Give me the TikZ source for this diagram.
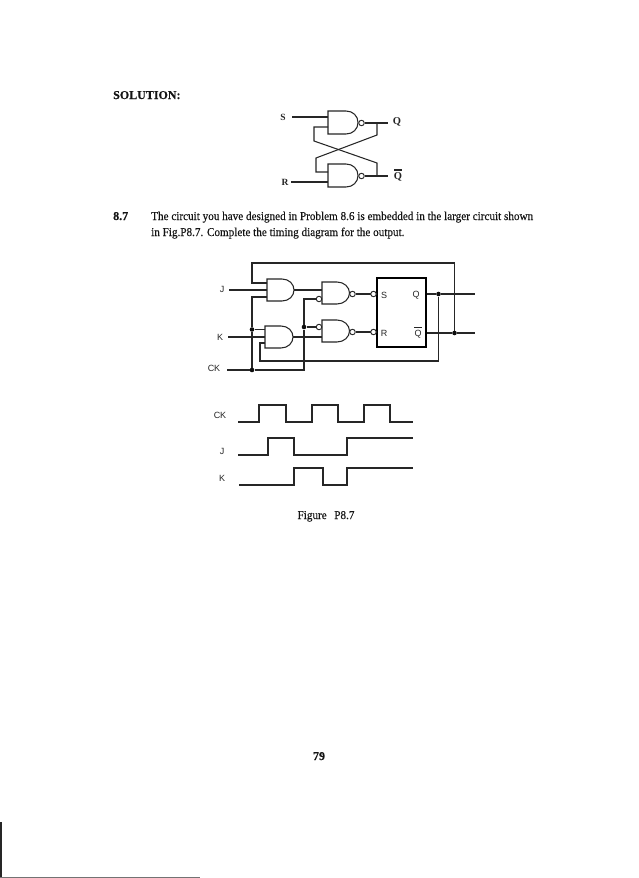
\documentclass[tikz,border=0pt]{standalone}
\usepackage{fontspec}
\setmainfont{Liberation Serif}
\setsansfont{Liberation Sans}
\newfontfamily\bodyfont[FakeStretch=0.93,FakeBold=0.25]{Liberation Serif}
\newfontfamily\headfont[FakeStretch=1.0,FakeBold=0.2]{Liberation Serif Bold}
\tikzset{
  wire/.style={line width=1.05pt,draw=black!85},
  bub/.style={circle,draw=black!85,line width=0.9pt,fill=white,inner sep=0pt,minimum size=5.5pt},
  dotj/.style={circle,fill=black!95,inner sep=0pt,minimum size=4.6pt},
  body/.style={font=\fontsize{12}{13}\bodyfont,anchor=base west,inner sep=0pt,text=black!92},
  bodyb/.style={font=\fontsize{12}{13}\headfont,anchor=base west,inner sep=0pt,text=black!92},
  serlab/.style={font=\fontsize{9.5}{11}\selectfont\bfseries,inner sep=0pt,text=black!85},
  serlabq/.style={font=\fontsize{10.5}{12}\selectfont\bfseries,inner sep=0pt,text=black!85},
  sanlab/.style={font=\fontsize{9}{10}\sffamily\selectfont,inner sep=0pt,text=black!85},
}
\begin{document}
\begin{tikzpicture}[x=1pt,y=-1pt]
\useasboundingbox (0,0) rectangle (638,878);
\fill[white] (0,0) rectangle (638,878);
% scan edge
\fill[black!85] (0,822) rectangle (1.6,878);
\fill[black!55] (0,877) rectangle (200,878);
% text
\node[bodyb] (t1) at (113,99) {SOLUTION:};
\node[bodyb] (t2) at (113,220) {8.7};
\node[body] (t3) at (151,220) {The circuit you have designed in Problem 8.6 is embedded in the larger circuit shown};
\node[body] (t4) at (151,236) {in Fig.P8.7. Complete the timing diagram for the output.};
\node[body,anchor=base] (t5) at (326,519) {Figure\ \ \,P8.7};
\node[bodyb,anchor=base] (t6) at (319,760) {79};
% ---- latch
\draw[wire] (328,111) -- (328,134) -- (346,134) .. controls (353,134) and (358,129) .. (358,122.5) .. controls (358,116) and (353,111) .. (346,111) -- cycle;
\draw[wire] (328,164) -- (328,187) -- (346,187) .. controls (353,187) and (358,182) .. (358,175.5) .. controls (358,169) and (353,164) .. (346,164) -- cycle;
\node[bub] (ab) at (361.5,123) {};
\node[bub] (bb) at (361.5,176) {};
\node[serlab] (S) at (283,117) {S};
\node[serlab] (R) at (285,182) {R};
\node[serlabq] (Q) at (397,122) {Q};
\node[serlabq] (Qb) at (398,177) {Q};
\draw[wire] (394,170) -- (402,170);
\coordinate (Sw) at (292,117); \coordinate (Rw) at (291,182);
\coordinate (Qe) at (388,123); \coordinate (Qbe) at (388,176);
\draw[wire] (Sw) -- (328,117);
\draw[wire] (Rw) -- (328,182);
\draw[wire] (ab) -- (Qe);
\draw[wire] (bb) -- (Qbe);
\draw[wire] (328,127) -- (314,127) -- (314,141) -- (377,163) -- (377,176);
\draw[wire] (377,123) -- (377,135) -- (316,158) -- (316,172) -- (328,172);
% ---- circuit gates
\draw[wire] (267,279) -- (267,301) -- (282,301) .. controls (289,301) and (294,296) .. (294,290) .. controls (294,284) and (289,279) .. (282,279) -- cycle;
\draw[wire] (265,326) -- (265,348) -- (281,348) .. controls (288,348) and (293,343) .. (293,337) .. controls (293,331) and (288,326) .. (281,326) -- cycle;
\draw[wire] (322,282) -- (322,304) -- (337,304) .. controls (344,304) and (349.5,299) .. (349.5,293) .. controls (349.5,287) and (344,282) .. (337,282) -- cycle;
\draw[wire] (322,320) -- (322,342) -- (337,342) .. controls (344,342) and (349.5,337) .. (349.5,331) .. controls (349.5,325) and (344,320) .. (337,320) -- cycle;
\node[bub] (g3o) at (352.5,294) {};
\node[bub] (g4o) at (352.5,332) {};
\node[draw=black,line width=1.5pt,minimum width=49pt,minimum height=69pt,inner sep=0pt,anchor=north west] (ff) at (376,277) {};
\node[sanlab] (lS) at (384,295) {S};
\node[sanlab] (lR) at (384,333) {R};
\node[sanlab] (lQ) at (416,295) {Q};
\node[sanlab] (lQb) at (418,334) {Q};
\draw[wire] (414,327.5) -- (422,327.5);
\node[sanlab] (lJ) at (222,289) {J};
\node[sanlab] (lK) at (220,337) {K};
\node[sanlab] (lCK) at (214,368) {CK};
% junctions
\node[dotj] (j1) at (252,329.5) {};
\node[dotj] (j2) at (252,370) {};
\node[dotj] (j3) at (304,327) {};
\node[dotj] (j4) at (438.5,294) {};
\node[dotj] (j5) at (454.5,333) {};
\coordinate (Je) at (229,290); \coordinate (Ke) at (228,337); \coordinate (CKe) at (227,370);
\coordinate (Qo) at (475,294); \coordinate (Qbo) at (475,333);
% wires
\draw[wire] (Je) -- (267,290);
\draw[wire] (Ke) -- (265,337);
\draw[wire] (CKe) -- (j2) -- (304,370) -- (j3) -- (304,299) -- (316,299);
\draw[wire] (j3) -- (316,327);
\node[bub] (g3i) at (319,299) {};
\node[bub] (g4i) at (319,327) {};
\draw[wire] (267,297) -- (252,297) -- (j1) -- (j2);
\draw[wire] (j1) -- (265,329.5);
\draw[wire] (294,290) -- (322,290);
\draw[wire] (293,337) -- (322,337);
\draw[wire] (g3o) -- (371,294);
\draw[wire] (g4o) -- (371,332);
\node[bub] (ffs) at (373.5,294) {};
\node[bub] (ffr) at (373.5,332) {};
\draw[wire] (267,283) -- (252,283) -- (252,263) -- (454.5,263) -- (j5);
\draw[wire] (265,343) -- (260,343) -- (260,361) -- (438.5,361) -- (j4);
\draw[wire] (ff.east|-Qo) -- (j4) -- (Qo);
\draw[wire] (ff.east|-Qbo) -- (j5) -- (Qbo);
% ---- timing
\node[sanlab] (tCK) at (220,415) {CK};
\node[sanlab] (tJ) at (222,451) {J};
\node[sanlab] (tK) at (222,478) {K};
\draw[wire] (238,422) -- (259,422) -- (259,405) -- (286,405) -- (286,422) -- (312,422) -- (312,405) -- (338,405) -- (338,422) -- (364,422) -- (364,405) -- (390,405) -- (390,422) -- (413,422);
\draw[wire] (238,455) -- (268,455) -- (268,438) -- (294,438) -- (294,455) -- (347,455) -- (347,438) -- (413,438);
\draw[wire] (239,485) -- (294,485) -- (294,468) -- (323,468) -- (323,485) -- (347,485) -- (347,468) -- (413,468);
\end{tikzpicture}
\end{document}
